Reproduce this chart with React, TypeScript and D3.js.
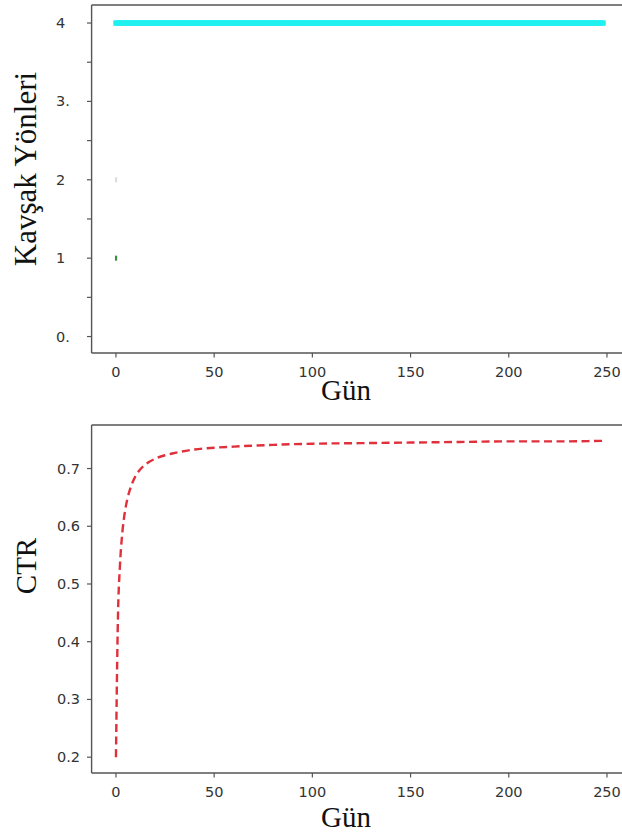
import React from "react";
import * as d3 from "d3";

// ---- data ----
const xTicks = [0, 50, 100, 150, 200, 250];
const topYTicks = [0, 0.5, 1, 1.5, 2, 2.5, 3, 3.5, 4];
const topYLabels: [number, string][] = [
  [4, "4"],
  [3, "3."],
  [2, "2"],
  [1, "1"],
  [0, "0."],
];
// chosen direction per day: cyan series = direction 4 on days 0..248
const cyanFirstDay = 0;
const cyanLastDay = 248;
const cyanValue = 4;
const greenPoints = [{ day: 0, value: 1 }];
const greyPoints = [{ day: 0, value: 2 }];

const ctrDays = [0, 1, 2, 3, 4, 5, 6, 8, 10, 12, 15, 20, 25, 30, 40, 50, 60, 80, 100, 125, 150, 175, 200, 225, 248];
const ctrValues = [
  0.2, 0.44, 0.53, 0.58, 0.612, 0.634, 0.65, 0.672, 0.687, 0.697, 0.707, 0.717, 0.723, 0.727,
  0.733, 0.736, 0.738, 0.741, 0.743, 0.744, 0.745, 0.746, 0.747, 0.747, 0.748,
];
const ctrYTicks = [0.2, 0.3, 0.4, 0.5, 0.6, 0.7];

const W = 622;
const H = 836;

export default function App() {
  const xTop = d3.scaleLinear().domain([-12.4, 260.4]).range([91.6, 627.4]);
  const xBot = xTop;
  const yTop = d3.scaleLinear().domain([-0.21, 4.23]).range([353, 5]);
  const yBot = d3.scaleLinear().domain([0.1726, 0.7754]).range([773, 425]);

  const cyanDays = d3.range(cyanFirstDay, cyanLastDay + 1);

  const line = d3
    .line<number>()
    .x((_, i) => xBot(ctrDays[i]))
    .y((d) => yBot(d))
    .curve(d3.curveMonotoneX);

  const spine = "#555";
  const tickColor = "#333";
  const tickFont = "DejaVu Sans, sans-serif";
  const tickSize = 14.5;
  const serif = "Liberation Serif, Times New Roman, serif";

  const xAxis = (y: number, key: string) => (
    <g key={key}>
      <line x1={xTop.range()[0]} x2={W + 10} y1={y} y2={y} stroke={spine} strokeWidth={1.4} />
      {xTicks.map((t) => (
        <g key={t}>
          <line x1={xTop(t)} x2={xTop(t)} y1={y} y2={y + 4.5} stroke={spine} strokeWidth={1.2} />
          <text
            x={xTop(t)}
            y={y + 23.5}
            textAnchor="middle"
            fontFamily={tickFont}
            fontSize={tickSize}
            fill={tickColor}
          >
            {t}
          </text>
        </g>
      ))}
    </g>
  );

  return (
    <svg
      width={W}
      height={H}
      style={{ position: "absolute", left: 0, top: 0, background: "#fff" }}
    >
      <rect x={0} y={0} width={W} height={H} fill="#fff" />
      {/* ---------- top chart ---------- */}
      <g>
        <line x1={91.6} x2={W + 10} y1={5} y2={5} stroke={spine} strokeWidth={1.4} />
        <line x1={91.6} x2={91.6} y1={5} y2={353} stroke={spine} strokeWidth={1.4} />
        {xAxis(353, "xa1")}
        {topYTicks.map((t) => (
          <line key={t} x1={87} x2={91.6} y1={yTop(t)} y2={yTop(t)} stroke={spine} strokeWidth={1.2} />
        ))}
        {topYLabels.map(([v, s]) => (
          <text
            key={v}
            x={56}
            y={yTop(v) + 5}
            fontFamily={tickFont}
            fontSize={tickSize}
            fill={tickColor}
          >
            {s}
          </text>
        ))}
        {cyanDays.map((d) => (
          <rect
            key={d}
            x={xTop(d) - 2.7}
            y={yTop(cyanValue) - 2.7}
            width={5.4}
            height={5.4}
            fill="#1ff0f0"
          />
        ))}
        {greenPoints.map((p, i) => (
          <rect key={"g" + i} x={xTop(p.day) - 1} y={yTop(p.value) - 2.5} width={2.2} height={5} fill="#3c8f3c" />
        ))}
        {greyPoints.map((p, i) => (
          <rect key={"s" + i} x={xTop(p.day) - 1} y={yTop(p.value) - 2.5} width={2.2} height={5} fill="#dcdcdc" />
        ))}
        <text
          transform={`translate(36, 169) rotate(-90)`}
          textAnchor="middle"
          fontFamily={serif}
          fontSize={31}
          fill="#111"
        >
          Kavşak Yönleri
        </text>
        <text x={346} y={400} textAnchor="middle" fontFamily={serif} fontSize={29} fill="#111">
          Gün
        </text>
      </g>

      {/* ---------- bottom chart ---------- */}
      <g>
        <line x1={91.6} x2={W + 10} y1={425} y2={425} stroke={spine} strokeWidth={1.4} />
        <line x1={91.6} x2={91.6} y1={425} y2={773} stroke={spine} strokeWidth={1.4} />
        {xAxis(773, "xa2")}
        {ctrYTicks.map((t) => (
          <g key={t}>
            <line x1={87} x2={91.6} y1={yBot(t)} y2={yBot(t)} stroke={spine} strokeWidth={1.2} />
            <text
              x={80}
              y={yBot(t) + 5}
              textAnchor="end"
              fontFamily={tickFont}
              fontSize={tickSize}
              fill={tickColor}
            >
              {t.toFixed(1)}
            </text>
          </g>
        ))}
        <path
          d={line(ctrValues) || ""}
          fill="none"
          stroke="#e0303c"
          strokeWidth={2.4}
          strokeDasharray="8 4.5"
        />
        <text
          transform={`translate(36, 566) rotate(-90)`}
          textAnchor="middle"
          fontFamily={serif}
          fontSize={29}
          fill="#111"
        >
          CTR
        </text>
        <text x={346} y={827} textAnchor="middle" fontFamily={serif} fontSize={29} fill="#111">
          Gün
        </text>
      </g>
    </svg>
  );
}
